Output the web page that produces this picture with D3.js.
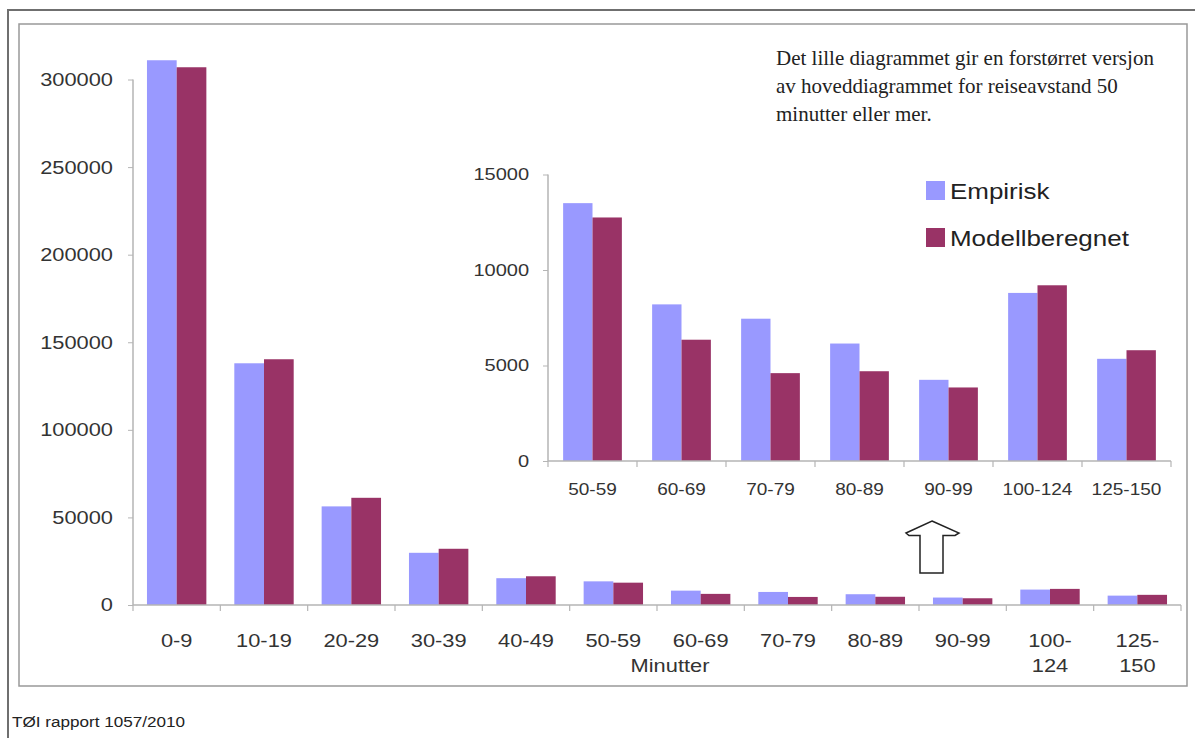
<!DOCTYPE html>
<html>
<head>
<meta charset="utf-8">
<script src="https://cdnjs.cloudflare.com/ajax/libs/d3/7.8.5/d3.min.js"></script>
<style>
  body { margin: 0; background: #fff; }
  svg { display: block; }
</style>
</head>
<body>
<div id="chart"></div>
<script>
//Data (number of trips per travel time class)
var categories = ["0-9", "10-19", "20-29", "30-39", "40-49", "50-59", "60-69", "70-79", "80-89", "90-99", "100-124", "125-150"];
var mainTickLabels = [["0-9"], ["10-19"], ["20-29"], ["30-39"], ["40-49"], ["50-59"], ["60-69"], ["70-79"], ["80-89"], ["90-99"], ["100-", "124"], ["125-", "150"]];
var empirisk = [311000, 138000, 56300, 29800, 15300, 13500, 8200, 7450, 6150, 4250, 8800, 5350];
var modellberegnet = [307000, 140300, 61200, 32100, 16400, 12750, 6350, 4600, 4700, 3850, 9200, 5800];
var mainTicks = [0, 50000, 100000, 150000, 200000, 250000, 300000];

//The small chart only shows 50 minutes or more
var insetStart = 5;
var insetCategories = categories.slice(insetStart);
var insetTicks = [0, 5000, 10000, 15000];

var seriesNames = ["Empirisk", "Modellberegnet"];
var colors = ["#9999ff", "#993366"];

var noteLines = [
    "Det lille diagrammet gir en forstørret versjon",
    "av hoveddiagrammet for reiseavstand 50",
    "minutter eller mer."
];
var footer = "TØI rapport 1057/2010";

//The scanned page is a bit wider than tall, so sans text gets stretched sideways
var SX = 1.18;
var sans = "'Liberation Sans', Arial, sans-serif";
var textColor = "#333";

var width = 1195, height = 738;

var svg = d3.select("#chart")
    .append("svg")
    .attr("width", width)
    .attr("height", height);

//Frame of the page and the chart box
svg.append("path")
    .attr("d", "M8,738 L8,10 L1195,10")
    .attr("fill", "none")
    .attr("stroke", "#6f6f6f")
    .attr("stroke-width", 2);

svg.append("rect")
    .attr("x", 19).attr("y", 24)
    .attr("width", 1168).attr("height", 662)
    .attr("fill", "none")
    .attr("stroke", "#999")
    .attr("stroke-width", 1.5);

//Helper for stretched text
function addText(parent, x, y, str, size, anchor, sx) {
    return parent.append("text")
        .attr("transform", "translate(" + x + "," + y + ") scale(" + sx + ",1)")
        .attr("text-anchor", anchor)
        .attr("font-family", sans)
        .attr("font-size", size)
        .attr("fill", textColor)
        .text(str);
}

//Draws a grouped bar chart with Excel-like axes
function drawBars(g, cats, emp, mod, x, y, opts) {
    var x1 = d3.scaleBand()
        .domain([0, 1])
        .range([0, x.bandwidth()]);

    var groups = g.selectAll("g.group")
        .data(cats)
        .enter()
        .append("g")
        .attr("class", "group")
        .attr("transform", function (d) { return "translate(" + x(d) + ",0)"; });

    groups.selectAll("rect")
        .data(function (d, i) { return [emp[i], mod[i]]; })
        .enter()
        .append("rect")
        .attr("x", function (d, j) { return x1(j); })
        .attr("y", function (d) { return y(d); })
        .attr("width", x1.bandwidth())
        .attr("height", function (d) { return y(0) - y(d); })
        .attr("fill", function (d, j) { return colors[j]; });

    //y axis
    var yAxis = g.append("g")
        .attr("transform", "translate(" + x.range()[0] + ",0)")
        .call(d3.axisLeft(y).tickValues(opts.ticks).tickFormat(d3.format("d"))
            .tickSize(5).tickPadding(opts.yPad).tickSizeOuter(0));
    yAxis.select(".domain").attr("stroke", "#b5b5b5").attr("stroke-width", 1.5)
        .attr("d", "M0," + y(opts.ticks[opts.ticks.length - 1]) + "V" + y(0));
    yAxis.selectAll(".tick line").attr("stroke", "#b5b5b5");
    yAxis.selectAll(".tick text")
        .attr("font-family", sans)
        .attr("font-size", opts.yFont)
        .attr("fill", textColor)
        .attr("transform", "scale(" + opts.sx + ",1)");
    yAxis.attr("font-family", null).attr("font-size", null);

    //x axis line with ticks between the groups
    var x0 = x.range()[0], xEnd = x.range()[1];
    g.append("line")
        .attr("x1", x0).attr("x2", xEnd)
        .attr("y1", y(0)).attr("y2", y(0))
        .attr("stroke", "#b5b5b5").attr("stroke-width", 1.5);
    g.selectAll("line.xtick")
        .data(d3.range(cats.length + 1))
        .enter()
        .append("line")
        .attr("class", "xtick")
        .attr("x1", function (d) { return x0 + d * x.step(); })
        .attr("x2", function (d) { return x0 + d * x.step(); })
        .attr("y1", y(0)).attr("y2", y(0) + 6)
        .attr("stroke", "#b5b5b5").attr("stroke-width", 1.2);
}

//Main chart
var x = d3.scaleBand()
    .domain(categories)
    .range([133, 1181])
    .paddingInner(0.32)
    .paddingOuter(0.16);

var y = d3.scaleLinear()
    .domain([0, 310000])
    .range([605, 62]);

var mainG = svg.append("g");
drawBars(mainG, categories, empirisk, modellberegnet, x, y,
    { ticks: mainTicks, yPad: 12, yFont: 18.5, sx: SX });

mainTickLabels.forEach(function (lines, i) {
    lines.forEach(function (line, k) {
        addText(mainG, x(categories[i]) + x.bandwidth() / 2, 647 + k * 25, line, 18.5, "middle", SX);
    });
});
addText(mainG, 670, 672, "Minutter", 18.5, "middle", SX);

//Small chart
var xi = d3.scaleBand()
    .domain(insetCategories)
    .range([548, 1171])
    .paddingInner(0.34)
    .paddingOuter(0.17);

var yi = d3.scaleLinear()
    .domain([0, 15000])
    .range([461, 174.5]);

var insetG = svg.append("g");
drawBars(insetG, insetCategories, empirisk.slice(insetStart), modellberegnet.slice(insetStart), xi, yi,
    { ticks: insetTicks, yPad: 11, yFont: 17, sx: SX });

insetCategories.forEach(function (c) {
    addText(insetG, xi(c) + xi.bandwidth() / 2, 495, c, 17, "middle", 1.12);
});

//Legend
var legend = svg.append("g");
seriesNames.forEach(function (name, i) {
    legend.append("rect")
        .attr("x", 926).attr("y", 181 + i * 47)
        .attr("width", 19).attr("height", 19)
        .attr("fill", colors[i]);
    addText(legend, 950, 199 + i * 47, name, 22, "start", SX).attr("fill", "#222");
});

//Note in the corner
var note = svg.append("g");
noteLines.forEach(function (line, i) {
    note.append("text")
        .attr("x", 776)
        .attr("y", 65 + i * 28)
        .attr("font-family", "'Liberation Serif', 'Times New Roman', serif")
        .attr("font-size", 21)
        .attr("fill", "#222")
        .text(line);
});

//Arrow pointing up at the small chart
svg.append("path")
    .attr("d", "M932,521 L959,533 L955,535.5 L943,535.5 L943,573 L920,573 L920,535.5 L909,535.5 L906,533 Z")
    .attr("fill", "#fff")
    .attr("stroke", "#222")
    .attr("stroke-width", 1.5)
    .attr("stroke-linejoin", "miter");

//Source line
addText(svg, 12, 727, footer, 14.5, "start", SX).attr("fill", "#222");
</script>
</body>
</html>
